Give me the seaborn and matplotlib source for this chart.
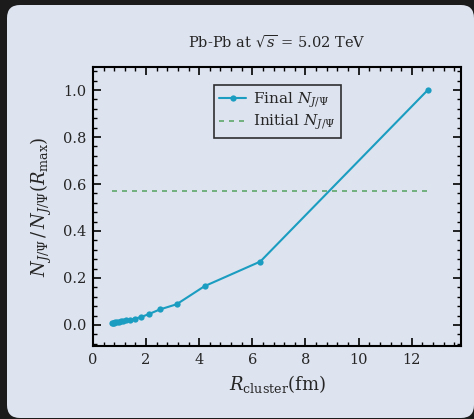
import seaborn as sns
import matplotlib.pyplot as plt
import pandas as pd
import numpy as np
from matplotlib.patches import FancyBboxPatch
from matplotlib.ticker import MultipleLocator

# data
r_cluster = [0.70, 0.741, 0.7875, 0.84, 0.90, 0.969, 1.05, 1.145, 1.26,
             1.40, 1.575, 1.80, 2.10, 2.52, 3.15, 4.20, 6.30, 12.60]
final_ratio = [0.008, 0.009, 0.010, 0.011, 0.012, 0.014, 0.016, 0.018, 0.020,
               0.023, 0.027, 0.033, 0.046, 0.066, 0.088, 0.165, 0.270, 1.000]
initial_ratio = 0.57

title = r'Pb-Pb at $\sqrt{s}$ = 5.02 TeV'
xlabel = r'$R_{\rm cluster}$(fm)'
ylabel = r'$N_{J/\Psi}\,/\,N_{J/\Psi}(R_{\rm max})$'

df = pd.DataFrame({'r': r_cluster, 'final': final_ratio})
df['initial'] = initial_ratio

sns.set_style('ticks')
plt.rcParams['font.family'] = ['DejaVu Serif']
plt.rcParams['mathtext.fontset'] = 'dejavuserif'

card = '#dde3ef'
fig = plt.figure(figsize=(4.74, 4.19), dpi=100, facecolor='#1b1b1b')
# rounded light card on the dark background (pixel coordinates)
fig.patches.append(FancyBboxPatch((7, 1), 467, 413,
                                  boxstyle='round,pad=0,rounding_size=13',
                                  transform=None, facecolor=card,
                                  edgecolor='none', zorder=-10))

ax = fig.add_axes([0.196, 0.174, 0.777, 0.666])
ax.set_facecolor('none')

sns.lineplot(data=df, x='r', y='final', ax=ax, color='#1a9dc0', lw=1.5,
             marker='o', markersize=4.5, markeredgewidth=0,
             label=r'Final $N_{J/\Psi}$')
sns.lineplot(data=df, x='r', y='initial', ax=ax, color='#5ea86c', lw=1.2,
             linestyle=(0, (3, 3)), label=r'Initial $N_{J/\Psi}$')

ax.set_xlim(0, 13.86)
ax.set_ylim(-0.09, 1.098)
ax.xaxis.set_major_locator(MultipleLocator(2))
ax.xaxis.set_minor_locator(MultipleLocator(0.4))
ax.yaxis.set_major_locator(MultipleLocator(0.2))
ax.yaxis.set_minor_locator(MultipleLocator(0.04))
ax.tick_params(which='both', direction='in', top=True, right=True,
               labelsize=10.5, color='black', pad=5)
ax.tick_params(which='major', length=6, width=1.2)
ax.tick_params(which='minor', length=3, width=1)
for s in ax.spines.values():
    s.set_linewidth(1.5)
    s.set_color('black')

ax.set_title(title, fontsize=10.5, pad=14)
ax.set_xlabel(xlabel, fontsize=13, labelpad=4)
ax.set_ylabel(ylabel, fontsize=13, labelpad=6)

leg = ax.legend(loc='upper center', fontsize=11, frameon=True, fancybox=False,
                handlelength=1.8, handletextpad=0.4, borderpad=0.35,
                labelspacing=0.2, borderaxespad=1.2)
leg.get_frame().set_edgecolor('black')
leg.get_frame().set_facecolor('none')
leg.get_frame().set_linewidth(1.2)

fig.savefig('out.png', dpi=100, facecolor=fig.get_facecolor())
